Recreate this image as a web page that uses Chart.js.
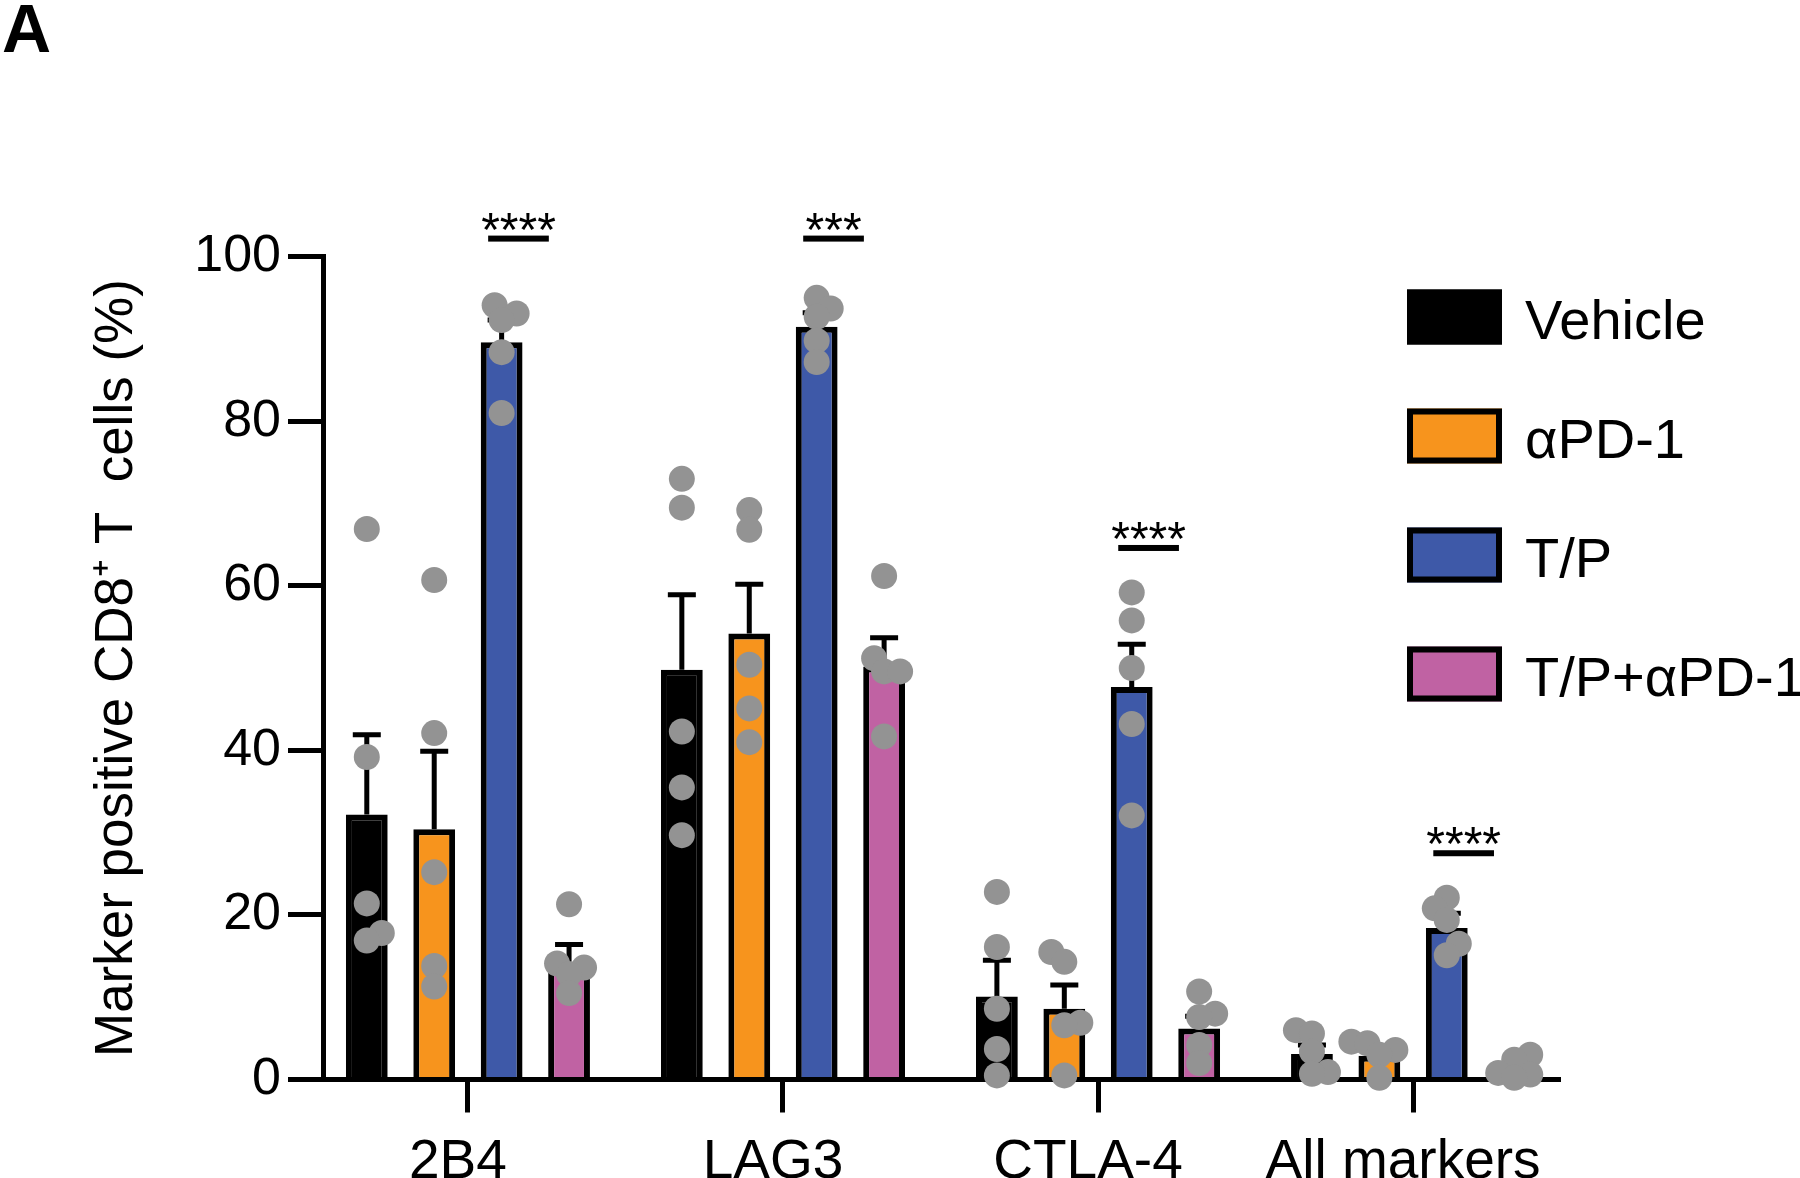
<!DOCTYPE html>
<html>
<head>
<meta charset="utf-8">
<script src="https://cdn.jsdelivr.net/npm/chart.js@4.4.0/dist/chart.umd.min.js"></script>
<style>
  html, body { margin: 0; padding: 0; background: #ffffff; }
  canvas { display: block; }
</style>
</head>
<body>
<canvas id="Chart1" width="1800" height="1178"></canvas>
<script>
// categories and treatment groups
var markers = ['2B4', 'LAG3', 'CTLA-4', 'All markers'];
var groups = ['Vehicle', 'αPD-1', 'T/P', 'T/P+αPD-1'];
var yTicks = [0, 20, 40, 60, 80, 100];

// bar heights (mean %) per group, one value per marker
var vehicleMean = [32.2, 49.8, 10.1, 3.1];
var apd1Mean = [30.4, 54.2, 8.6, 2.9];
var tpMean = [89.6, 91.5, 47.7, 18.4];
var tpApd1Mean = [14.3, 50.2, 6.2, 1.2];

// SEM (upper error bar)
var vehicleSem = [9.7, 9.1, 4.4, 1.1];
var apd1Sem = [9.5, 6.0, 2.9, 0.8];
var tpSem = [2.7, 1.7, 5.2, 1.8];
var tpApd1Sem = [2.1, 3.5, 1.5, 0.5];

// individual animals
var vehicleDots = [[66.9, 39.2, 21.4, 17.8, 16.9], [73.0, 69.5, 42.3, 35.5, 29.7], [22.8, 16.1, 8.6, 3.7, 0.5], [6.0, 5.6, 3.4, 0.9, 0.7]];
var apd1Dots = [[60.7, 42.1, 25.2, 13.8, 11.3], [69.2, 66.8, 50.4, 45.1, 41.0], [15.5, 14.3, 6.9, 6.6, 0.5], [4.6, 4.4, 3.6, 3.0, 0.2]];
var tpDots = [[94.1, 93.1, 92.3, 88.4, 81.0], [95.0, 93.7, 92.7, 89.8, 87.2], [59.2, 55.8, 50.0, 43.2, 32.1], [22.1, 20.8, 19.4, 16.5, 15.1]];
var tpApd1Dots = [[21.3, 14.1, 13.6, 12.8, 10.5], [61.2, 51.2, 49.6, 49.6, 41.7], [10.7, 8.0, 7.6, 4.2, 2.0], [3.0, 2.4, 0.8, 0.6, 0.2]];

// significance brackets (T/P vs others)
var sigLabels = ['****', '***', '****', '****'];
var sigHeights = [102.2, 102.2, 64.6, 27.5];

var groupMeans = [vehicleMean, apd1Mean, tpMean, tpApd1Mean];
var groupSems = [vehicleSem, apd1Sem, tpSem, tpApd1Sem];
var groupDots = [vehicleDots, apd1Dots, tpDots, tpApd1Dots];
var groupColors = ['#000000', '#F7941D', '#3E59A8', '#C062A3'];

var FONT = "'Liberation Sans', Arial, sans-serif";

window.onload = function() {

    Chart.defaults.font.family = FONT;
    Chart.defaults.color = '#000000';

    // spread overlapping dots sideways (simple beeswarm, pixel space)
    function swarm(cx, ys, gap) {
        var order = ys.map(function(y, i) { return i; }).sort(function(a, b) { return ys[b] - ys[a]; });
        var xs = [];
        var placed = [];
        var balance = 0;
        order.forEach(function(idx) {
            var y = ys[idx];
            var best = 0;
            for (var k = 0; k < 80; k++) {
                var tries = k === 0 ? [0] : (balance <= 0 ? [k, -k] : [-k, k]);
                var ok = null;
                for (var t = 0; t < tries.length; t++) {
                    var x = cx + tries[t];
                    var clash = placed.some(function(p) {
                        var dx = p[0] - x, dy = p[1] - y;
                        return dx * dx + dy * dy < gap * gap;
                    });
                    if (!clash) { ok = tries[t]; break; }
                }
                if (ok !== null) { best = ok; break; }
            }
            balance += best;
            placed.push([cx + best, y]);
            xs[idx] = cx + best;
        });
        return xs;
    }

    var overlays = {
        id: 'overlays',
        afterDraw: function(chart) {
            var ctx = chart.ctx;
            var yScale = chart.scales.y;
            ctx.save();

            // error bars (mean + SEM)
            ctx.strokeStyle = '#000000';
            ctx.lineWidth = 5;
            groups.forEach(function(g, d) {
                chart.getDatasetMeta(d).data.forEach(function(bar, i) {
                    var top = yScale.getPixelForValue(groupMeans[d][i] + groupSems[d][i]);
                    ctx.beginPath();
                    ctx.moveTo(bar.x, bar.y);
                    ctx.lineTo(bar.x, top);
                    ctx.moveTo(bar.x - 14, top);
                    ctx.lineTo(bar.x + 14, top);
                    ctx.stroke();
                });
            });

            // individual dots
            ctx.fillStyle = '#939393';
            groups.forEach(function(g, d) {
                chart.getDatasetMeta(d).data.forEach(function(bar, i) {
                    var ys = groupDots[d][i].map(function(v) { return yScale.getPixelForValue(v); });
                    var xs = swarm(bar.x, ys, 16);
                    ys.forEach(function(y, j) {
                        ctx.beginPath();
                        ctx.arc(xs[j], y, 13, 0, Math.PI * 2);
                        ctx.fill();
                    });
                });
            });

            // significance lines and stars
            ctx.fillStyle = '#000000';
            ctx.textAlign = 'center';
            ctx.textBaseline = 'alphabetic';
            ctx.font = '48px ' + FONT;
            sigLabels.forEach(function(s, i) {
                var blue = chart.getDatasetMeta(2).data[i];
                var pink = chart.getDatasetMeta(3).data[i];
                var step = pink.x - blue.x;
                var cx = blue.x + 0.25 * step;
                var half = 0.45 * step;
                var y = yScale.getPixelForValue(sigHeights[i]);
                ctx.fillRect(cx - half, y - 3, half * 2, 6);
                ctx.fillText(s, cx, y + 7);
            });

            // legend
            ctx.textAlign = 'left';
            ctx.textBaseline = 'middle';
            ctx.font = '56px ' + FONT;
            groups.forEach(function(g, d) {
                var cy = 317 + d * 119;
                ctx.fillStyle = groupColors[d];
                ctx.fillRect(1407, cy - 27.5, 95, 55);
                ctx.lineWidth = 6;
                ctx.strokeStyle = '#000000';
                ctx.strokeRect(1410, cy - 24.5, 89, 49);
                ctx.fillStyle = '#000000';
                ctx.fillText(g, 1525, cy + 7);
            });

            // panel letter
            ctx.font = 'bold 68px ' + FONT;
            ctx.textBaseline = 'alphabetic';
            ctx.fillText('A', 2, 52);

            ctx.restore();
        }
    };

    var ctx = document.getElementById('Chart1').getContext('2d');
    var myChart = new Chart(ctx, {
        type: 'bar',
        data: {
            datasets: groups.map(function(g, d) {
                return {
                    label: g,
                    data: groupMeans[d].map(function(v, i) { return { x: i, y: v }; }),
                    backgroundColor: groupColors[d],
                    borderColor: '#000000',
                    borderWidth: 6,
                    categoryPercentage: 0.856,
                    barPercentage: 0.62
                };
            })
        },
        options: {
            responsive: false,
            animation: false,
            devicePixelRatio: 1,
            layout: {
                padding: { top: 256.7, right: 242, bottom: 0, left: 0 }
            },
            scales: {
                x: {
                    type: 'linear',
                    min: -0.46,
                    max: 3.46,
                    bounds: 'data',
                    offset: false,
                    z: 1,
                    afterBuildTicks: function(scale) {
                        scale.ticks = markers.map(function(m, i) { return { value: i }; });
                    },
                    afterFit: function(scale) { scale.height = 98.5; },
                    grid: {
                        display: true,
                        drawOnChartArea: false,
                        drawTicks: true,
                        tickLength: 33,
                        lineWidth: 5,
                        color: '#000000',
                        offset: false
                    },
                    border: { display: true, width: 5, color: '#000000' },
                    ticks: {
                        callback: function(v) { return markers[v]; },
                        font: { size: 55 },
                        color: '#000000',
                        padding: 17,
                        labelOffset: -10,
                        maxRotation: 0,
                        autoSkip: false
                    }
                },
                y: {
                    min: 0,
                    max: 100,
                    z: 1,
                    afterBuildTicks: function(scale) {
                        scale.ticks = yTicks.map(function(v) { return { value: v }; });
                    },
                    afterFit: function(scale) { scale.width = 323; },
                    grid: {
                        display: true,
                        drawOnChartArea: false,
                        drawTicks: true,
                        tickLength: 35,
                        lineWidth: 5,
                        color: '#000000'
                    },
                    border: { display: true, width: 5, color: '#000000' },
                    ticks: {
                        font: { size: 52 },
                        color: '#000000',
                        padding: 7
                    },
                    title: {
                        display: true,
                        text: 'Marker positive CD8\u207A T  cells (%)',
                        font: { size: 53 },
                        color: '#000000',
                        padding: { top: 86, bottom: 0 }
                    }
                }
            },
            plugins: {
                legend: { display: false },
                tooltip: { enabled: false }
            }
        },
        plugins: [overlays]
    });

//end code
}
</script>
</body>
</html>
